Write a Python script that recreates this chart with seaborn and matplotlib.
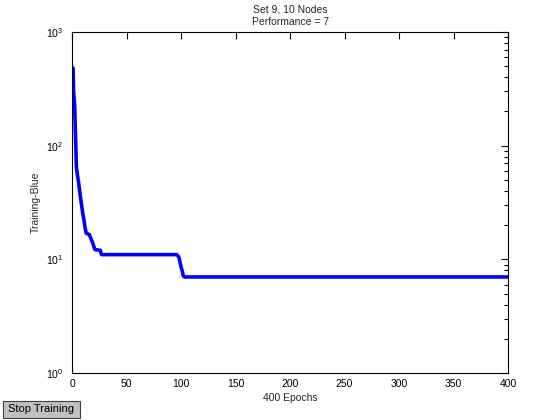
import matplotlib
matplotlib.use("Agg")
import matplotlib.pyplot as plt
import seaborn as sns
from matplotlib.patches import Rectangle
from matplotlib.ticker import LogLocator

# Data
epochs = [0, 1, 1.5, 2.5, 3, 3.5, 4, 5, 6, 7, 8, 9, 10, 11, 12, 13, 16, 17, 19, 20, 21,
          26, 27, 96, 98, 99, 100, 101, 102, 103, 400]
performance = [490, 480, 300, 220, 140, 100, 65, 55, 48, 40, 34, 29, 25, 22, 19, 17, 16.5,
               15.5, 14, 13, 12.2, 12, 11, 11, 10.5, 9.5, 8.6, 8, 7.2, 7, 7]
x_ticks = [0, 50, 100, 150, 200, 250, 300, 350, 400]
title_text = "Set 9, 10 Nodes\nPerformance = 7"
x_label = "400 Epochs"
y_label = "Training-Blue"
button_text = "Stop Training"

sns.set_style("white")
plt.rcParams['font.family'] = ['Liberation Sans', 'DejaVu Sans']
plt.rcParams['mathtext.fontset'] = 'custom'
plt.rcParams['mathtext.rm'] = 'Liberation Sans'
plt.rcParams['mathtext.it'] = 'Liberation Sans'

fig = plt.figure(figsize=(5.6, 4.2), dpi=100)
fig.patch.set_facecolor("white")
ax = fig.add_axes([72 / 560, 47 / 420, 436 / 560, 341 / 420])

sns.lineplot(x=epochs, y=performance, ax=ax, color="#0000ff", linewidth=2.6,
             estimator=None, sort=False)

ax.set_yscale("log")
ax.set_ylim(1, 1000)
ax.set_xlim(0, 400)
ax.set_xticks(x_ticks)
ax.yaxis.set_minor_locator(LogLocator(base=10, subs=range(2, 10)))

for s in ax.spines.values():
    s.set_color("black")
    s.set_linewidth(0.8)

ax.tick_params(which="both", direction="in", top=True, right=True, colors="black",
               labelsize=7.5, width=0.8)
ax.tick_params(which="major", length=5, pad=4)
ax.tick_params(axis="y", which="major", pad=6)
ax.tick_params(which="minor", length=3)
ax.tick_params(axis="x", which="minor", bottom=False, top=False)

ax.set_title(title_text, fontsize=7.5, pad=5, linespacing=1.3)
ax.set_xlabel(x_label, fontsize=7.5, labelpad=3)
ax.set_ylabel(y_label, fontsize=7.5, labelpad=4)

# "Stop Training" button
btn = Rectangle((3 / 560, 2 / 420), 77 / 560, 17 / 420, transform=fig.transFigure,
                facecolor="#c0c0c0", edgecolor="#404040", linewidth=0.8)
fig.patches.append(btn)
fig.text(41.5 / 560, 10.5 / 420, button_text, ha="center", va="center", fontsize=8, color="black")

fig.savefig("out.png", dpi=100, facecolor="white")
